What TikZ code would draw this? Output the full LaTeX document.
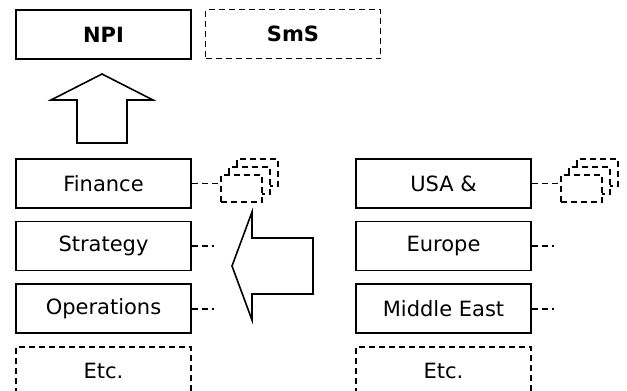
\documentclass[tikz,border=0pt]{standalone}
\usepackage{fontspec}
\setmainfont{DejaVu Sans}
\usetikzlibrary{positioning}

\begin{document}
\begin{tikzpicture}[x=1pt,y=-1pt]
	\tikzstyle{box}=[draw,line width=1.6pt,minimum width=175pt,minimum height=49pt,inner sep=0pt,font=\fontsize{21}{25}\selectfont];
	\tikzstyle{dbox}=[box,dash pattern=on 6pt off 4pt];
	\tikzstyle{link}=[line width=1.6pt,dash pattern=on 6pt off 4pt];
	\tikzstyle{mini}=[draw,fill=white,link,minimum width=41pt,minimum height=27pt,inner sep=0pt];
	\useasboundingbox (0,0) rectangle (627,391);
	% top row
	\path (103.5,34.5) node[box]  (npi) {\textbf{NPI}};
	\path (293,34)     node[dbox] (sms) {\textbf{SmS}};
	% functions
	\path (103.5,183.5) node[box] (fin) {Finance};
	\node[box,below=12pt of fin]  (str) {Strategy};
	\node[box,below=12pt of str]  (ops) {Operations};
	\node[dbox,below=12pt of ops] (fetc) {Etc.};
	% regions
	\path (443.5,183.5) node[box] (usa) {USA \&};
	\node[box,below=12pt of usa]  (eur) {Europe};
	\node[box,below=12pt of eur]  (mde) {Middle East};
	\node[dbox,below=12pt of mde] (retc) {Etc.};
	% stacked minis
	\path (257.5,172.5) node[mini] (fback) {};
	\path (249.5,180.5) node[mini] (fmid) {};
	\path (241.5,188.5) node[mini] (ffront) {};
	\path (597.5,172.5) node[mini] (rback) {};
	\path (589.5,180.5) node[mini] (rmid) {};
	\path (581.5,188.5) node[mini] (rfront) {};
	\path (str.east) ++(22,0) coordinate (strend);
	\path (ops.east) ++(22,0) coordinate (opsend);
	\path (eur.east) ++(22,0) coordinate (eurend);
	\path (mde.east) ++(22,0) coordinate (mdeend);
	\draw[link] (fin.east) -- (fin.east -| ffront.west)
	(str.east) -- (strend)
	(ops.east) -- (opsend)
	(usa.east) -- (usa.east -| rfront.west)
	(eur.east) -- (eurend)
	(mde.east) -- (mdeend);
	% big arrows
	\draw[line width=1.6pt,line join=miter] (102,74) -- (153,100) -- (127,100) -- (127,143)
	-- (77,143) -- (77,100) -- (51,100) -- cycle;
	\draw[line width=1.6pt,line join=miter] (232,266) -- (252,212) -- (252,238) -- (313,238)
	-- (313,294) -- (252,294) -- (252,320) -- cycle;
\end{tikzpicture}
\end{document}
